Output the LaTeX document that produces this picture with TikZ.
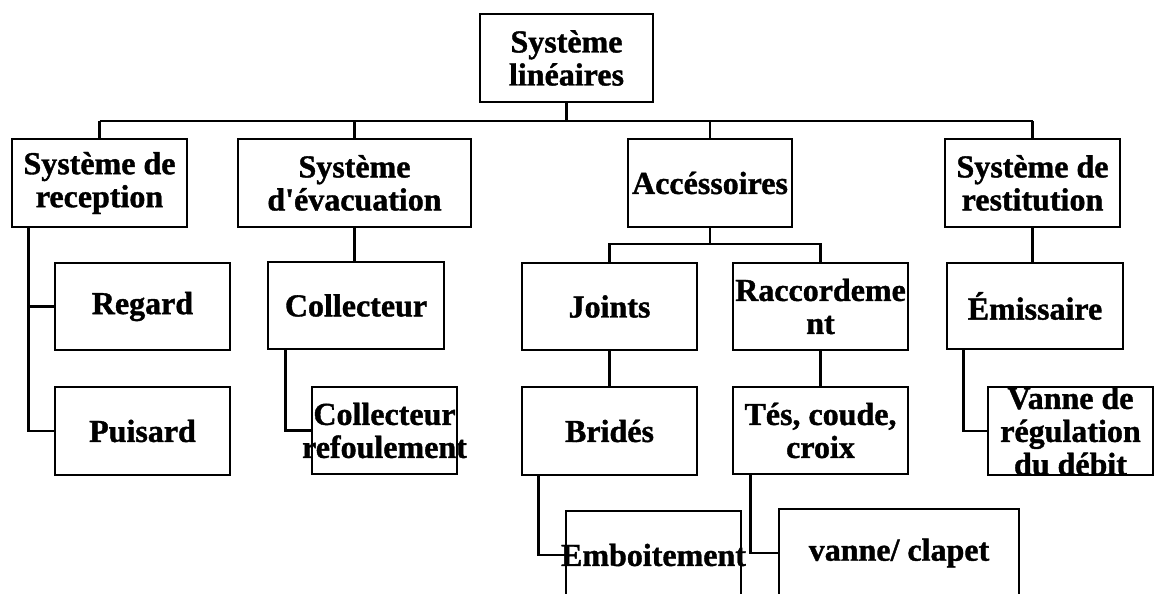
\documentclass[tikz,border=0pt]{standalone}
\usepackage{fontspec}
\setmainfont{Liberation Serif}[Ligatures=TeXOff, BoldFeatures={FakeBold=1.2}]
\begin{document}
\begin{tikzpicture}[x=1pt,y=-1pt,
  box/.style={draw, line width=2.6pt, rectangle, inner sep=0pt},
  lbl/.style={align=center, inner sep=0pt, font=\bfseries\fontsize{32}{33}\selectfont},
  link/.style={line width=2.6pt}]
\useasboundingbox (0,0) rectangle (1154,594);
\clip (0,0) rectangle (1154,594);

% root
\node[box, minimum width=173pt, minimum height=88pt, label={[lbl]center:Système\\linéaires}] (top) at (566.5,58) {};

% second level
\node[box, minimum width=175pt, minimum height=88pt, label={[lbl]center:Système de\\reception}] (recep) at (99.5,183) {};
\node[box, minimum width=233pt, minimum height=88pt, label={[lbl]center:Système\\d'évacuation}] (evac) at (354.5,183) {};
\node[box, minimum width=164pt, minimum height=88pt, label={[lbl]center:Accéssoires}] (acc) at (710,183) {};
\node[box, minimum width=175pt, minimum height=88pt, label={[lbl]center:Système de\\restitution}] (restit) at (1032.5,183) {};

% reception branch
\node[box, minimum width=175pt, minimum height=87pt, label={[lbl]center:Regard}] (regard) at (142.5,306.5) {};
\node[box, minimum width=175pt, minimum height=88pt, label={[lbl]center:Puisard}] (puisard) at (142.5,431) {};

% evacuation branch
\node[box, minimum width=176pt, minimum height=87pt, label={[lbl]center:Collecteur}] (coll) at (356,305.5) {};
\node[box, minimum width=145pt, minimum height=87pt, label={[lbl]center:Collecteur\\refoulement}] (collref) at (384.5,430.5) {};

% accessories branch
\node[box, minimum width=175pt, minimum height=87pt, label={[lbl]center:Joints}] (joints) at (609.5,306.5) {};
\node[box, minimum width=175pt, minimum height=87pt, label={[lbl]center:Raccordeme\\nt}] (racc) at (820.5,306.5) {};
\node[box, minimum width=175pt, minimum height=88pt, label={[lbl]center:Bridés}] (brides) at (609.5,431) {};
\node[box, minimum width=175pt, minimum height=87pt, label={[lbl]center:{Tés, coude,\\croix}}] (tes) at (820.5,430.5) {};
\node[box, minimum width=175pt, minimum height=88pt, label={[lbl]center:Emboitement}] (emboit) at (653.5,555) {};
\node[box, minimum width=240pt, minimum height=88pt, label={[lbl]center:vanne/ clapet}] (vanne) at (899,553) {};

% restitution branch
\node[box, minimum width=176pt, minimum height=86pt, label={[lbl]center:Émissaire}] (emis) at (1035,306) {};
\node[box, minimum width=165pt, minimum height=88pt, label={[lbl]center:Vanne de\\régulation\\du débit}] (vreg) at (1070.5,431) {};

% main bus
\coordinate (busy) at (0,121);
\draw[link] (recep.north |- busy) -- (restit.north |- busy);
\draw[link] (top.south) -- (top.south |- busy);
\foreach \n in {recep,evac,acc,restit}
  \draw[link] (\n.north) -- (\n.north |- busy);

% reception children
\draw[link] ([xshift=18pt]recep.south west) |- (regard.west);
\draw[link] ([xshift=18pt]recep.south west) |- (puisard.west);

% evacuation children
\draw[link] (evac.south) -- (evac.south |- coll.north);
\draw[link] ([xshift=19pt]coll.south west) |- (collref.west);

% accessories children
\coordinate (accbus) at (0,244);
\draw[link] (acc.south) -- (acc.south |- accbus);
\draw[link] (joints.north) -- (joints.north |- accbus) -- (racc.north |- accbus) -- (racc.north);
\draw[link] (joints.south) -- (brides.north);
\draw[link] (racc.south) -- (tes.north);
\draw[link] ([xshift=18pt]brides.south west) |- (emboit.west);
\draw[link] ([xshift=19pt]tes.south west) |- (vanne.west);

% restitution children
\draw[link] (restit.south) -- (restit.south |- emis.north);
\draw[link] ([xshift=18pt]emis.south west) |- (vreg.west);
\end{tikzpicture}
\end{document}
